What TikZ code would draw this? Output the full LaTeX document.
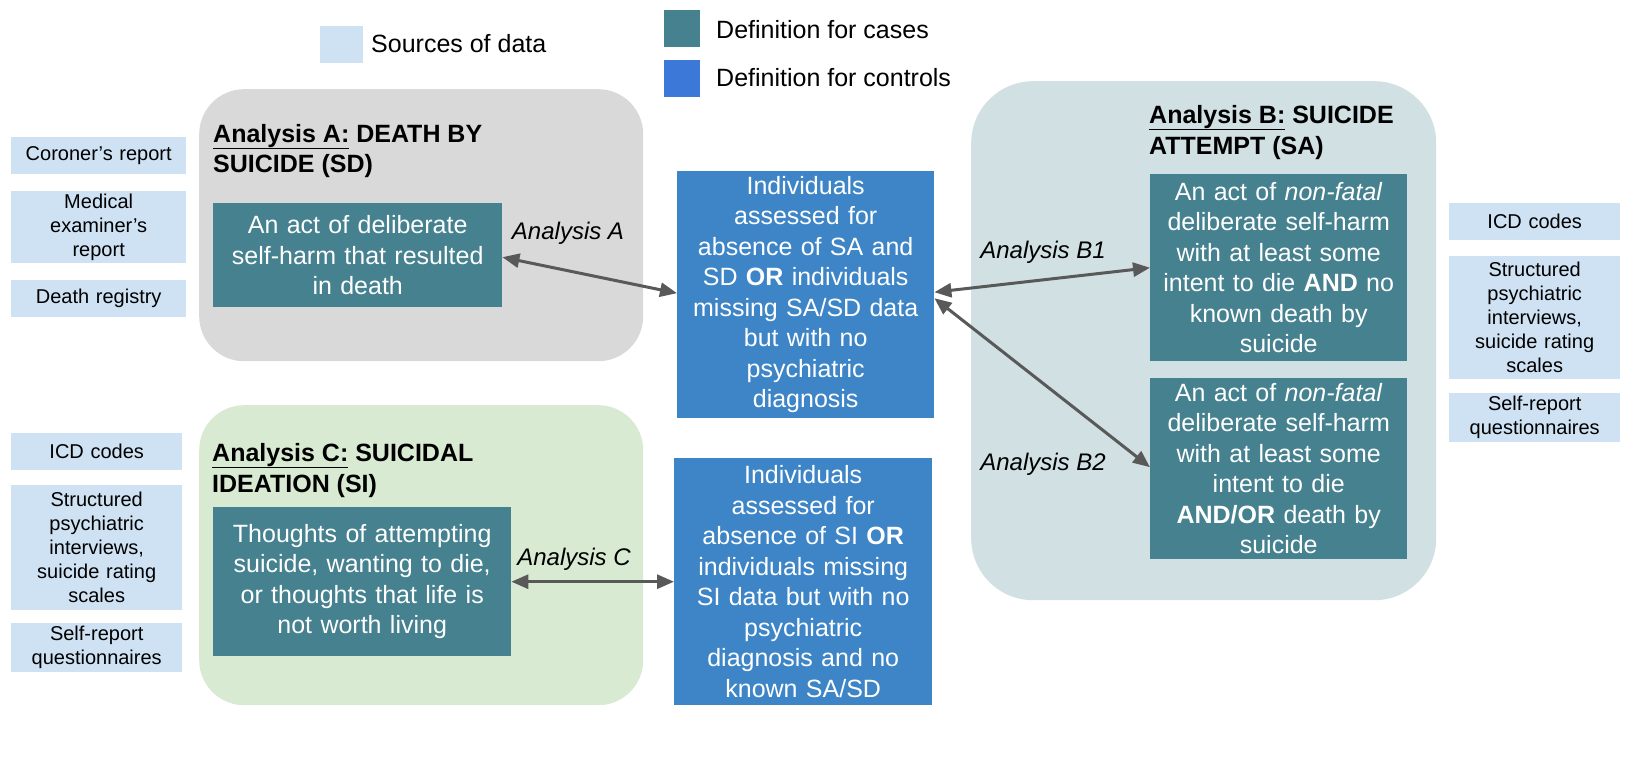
\documentclass[tikz,border=0pt]{standalone}
\usepackage{fontspec}
\setmainfont{Liberation Sans}
\usetikzlibrary{arrows.meta}
\definecolor{srcc}{HTML}{CFE2F3}
\definecolor{casec}{HTML}{45818E}
\definecolor{ctrlc}{HTML}{3D85C6}
\definecolor{legblue}{HTML}{3C78D8}
\definecolor{panA}{HTML}{D9D9D9}
\definecolor{panB}{HTML}{D0E0E3}
\definecolor{panC}{HTML}{D9EAD3}
\definecolor{arrc}{HTML}{595959}
\tikzset{
  big/.style={font=\fontsize{25}{30.5}\selectfont},
  small/.style={font=\fontsize{20}{24}\selectfont},
  srcbox/.style={small, fill=srcc, draw=none, inner sep=0pt, align=center, anchor=north west},
  casebox/.style={big, fill=casec, text=white, inner sep=0pt, align=center, anchor=north west},
  ctrlbox/.style={big, fill=ctrlc, text=white, inner sep=0pt, align=center, anchor=north west},
  panel/.style={inner sep=0pt, anchor=north west},
  ttl/.style={big, font=\fontsize{25}{30.5}\selectfont\bfseries, anchor=base west, inner sep=0pt},
  lbl/.style={font=\fontsize{24}{28}\selectfont\itshape, inner sep=0pt},
  legtxt/.style={big, anchor=west, inner sep=0pt},
  arr/.style={draw=arrc, line width=3pt, {Triangle[length=17pt,width=14pt]}-{Triangle[length=17pt,width=14pt]}}
}
\begin{document}
\begin{tikzpicture}[x=1pt,y=-1pt]
\useasboundingbox[fill=white] (0,0) rectangle (1632,768);
% legend
\node[fill=srcc, panel, minimum width=43pt, minimum height=37pt] (lsrc) at (320,26) {};
\node[legtxt] (lsrct) at (371,44) {Sources of data};
\node[fill=casec, panel, minimum width=36pt, minimum height=37pt] (lcase) at (664,10) {};
\node[legtxt] (lcaset) at (716,30) {Definition for cases};
\node[fill=legblue, panel, minimum width=36pt, minimum height=37pt] (lctrl) at (664,60) {};
\node[legtxt] (lctrlt) at (716,78) {Definition for controls};
% panels
\node[panel, fill=panA, rounded corners=45pt, minimum width=444pt, minimum height=272pt] (pA) at (199,89) {};
\node[panel, fill=panB, rounded corners=62pt, minimum width=465pt, minimum height=519pt] (pB) at (971,81) {};
\node[panel, fill=panC, rounded corners=45pt, minimum width=444pt, minimum height=300pt] (pC) at (199,405) {};
% titles
\node[ttl] (tA1) at (213,142) {\underline{Analysis A:} DEATH BY};
\node[ttl] (tA2) at (213,172) {SUICIDE (SD)};
\node[ttl] (tB1) at (1149,123) {\underline{Analysis B:} SUICIDE};
\node[ttl] (tB2) at (1149,154) {ATTEMPT (SA)};
\node[ttl] (tC1) at (212,461) {\underline{Analysis C:} SUICIDAL};
\node[ttl] (tC2) at (212,492) {IDEATION (SI)};
% case boxes
\node[casebox, text width=289pt, minimum height=104pt] (cA) at (213,203)
  {An act of deliberate\\ self-harm that resulted\\ in death};
\node[casebox, text width=257pt, minimum height=187pt] (cB1) at (1150,174)
  {An act of \textit{non-fatal}\\ deliberate self-harm\\ with at least some\\ intent to die \textbf{AND} no\\ known death by\\ suicide};
\node[casebox, text width=257pt, minimum height=181pt] (cB2) at (1150,378)
  {An act of \textit{non-fatal}\\ deliberate self-harm\\ with at least some\\ intent to die\\ \textbf{AND/OR} death by\\ suicide};
\node[casebox, text width=298pt, minimum height=149pt] (cC) at (213,507)
  {Thoughts of attempting\\ suicide, wanting to die,\\ or thoughts that life is\\ not worth living};
% control boxes
\node[ctrlbox, text width=257pt, minimum height=247pt] (k1) at (677,171)
  {Individuals\\ assessed for\\ absence of SA and\\ SD \textbf{OR} individuals\\ missing SA/SD data\\ but with no\\ psychiatric\\ diagnosis};
\node[ctrlbox, text width=258pt, minimum height=247pt] (k2) at (674,458)
  {Individuals\\ assessed for\\ absence of SI \textbf{OR}\\ individuals missing\\ SI data but with no\\ psychiatric\\ diagnosis and no\\ known SA/SD};
% sources left top
\node[srcbox, text width=175pt, minimum height=37pt] (sA1) at (11,137) {Coroner’s report};
\node[srcbox, text width=175pt, minimum height=72pt] (sA2) at (11,191) {Medical\\ examiner’s\\ report};
\node[srcbox, text width=175pt, minimum height=37pt] (sA3) at (11,280) {Death registry};
% sources left bottom
\node[srcbox, text width=171pt, minimum height=37pt] (sC1) at (11,433) {ICD codes};
\node[srcbox, text width=171pt, minimum height=125pt] (sC2) at (11,485) {Structured\\ psychiatric\\ interviews,\\ suicide rating\\ scales};
\node[srcbox, text width=171pt, minimum height=49pt] (sC3) at (11,623) {Self-report\\ questionnaires};
% sources right
\node[srcbox, text width=171pt, minimum height=37pt] (sB1) at (1449,203) {ICD codes};
\node[srcbox, text width=171pt, minimum height=123pt] (sB2) at (1449,256) {Structured\\ psychiatric\\ interviews,\\ suicide rating\\ scales};
\node[srcbox, text width=171pt, minimum height=49pt] (sB3) at (1449,393) {Self-report\\ questionnaires};
% labels
\node[lbl] (lA) at (568,233) {Analysis A};
\node[lbl] (lB1) at (1043,252) {Analysis B1};
\node[lbl] (lB2) at (1043,464) {Analysis B2};
\node[lbl] (lC) at (574,559) {Analysis C};
% arrows
\draw[arr] ([yshift=-2pt]cA.east) -- ([yshift=1.5pt]k1.west);
\draw[arr] ([yshift=2.5pt]k1.east) -- (cB1.west);
\draw[arr] ([yshift=-3.5pt]k1.east) -- ([yshift=1.5pt]cB2.west);
\draw[arr] (cC.east) -- (k2.west);
\end{tikzpicture}
\end{document}
